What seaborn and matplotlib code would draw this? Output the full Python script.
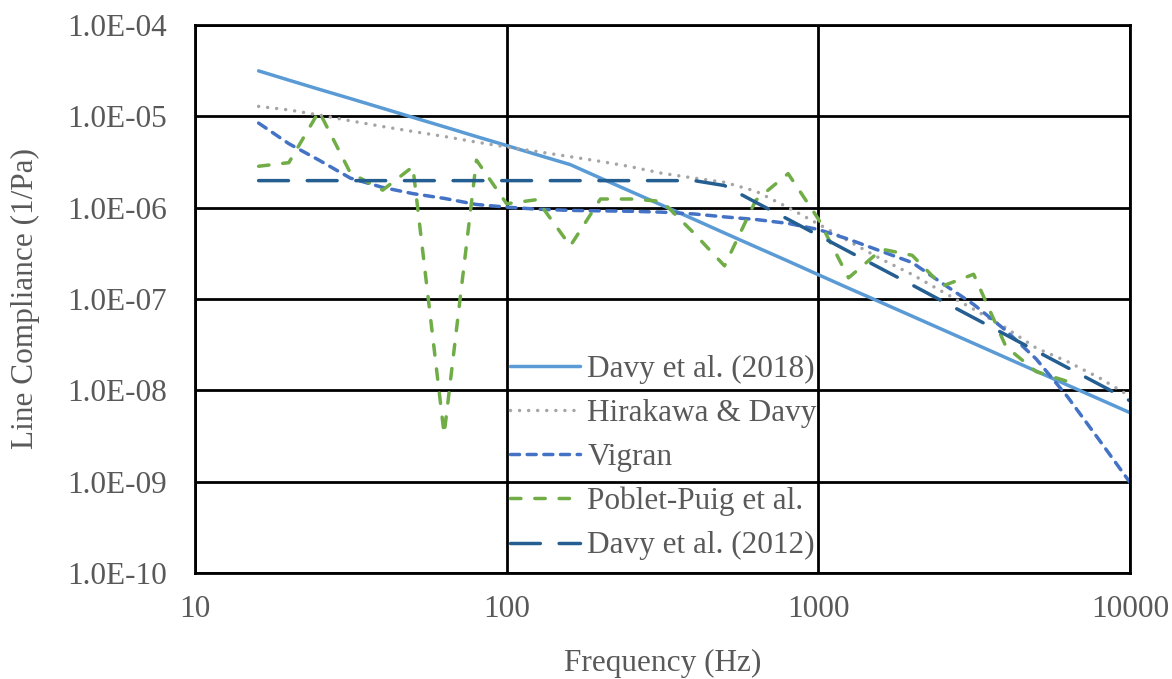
import numpy as np
import pandas as pd
import matplotlib
matplotlib.use("Agg")
import matplotlib.pyplot as plt
from matplotlib.ticker import FuncFormatter, FixedLocator, NullLocator
import seaborn as sns

# Third-octave band centre frequencies (Hz)
freq = [16, 20, 25, 31.5, 40, 50, 63, 80, 100, 125, 160, 200, 250, 315, 400,
        500, 630, 800, 1000, 1250, 1600, 2000, 2500, 3150, 4000, 5000, 6300,
        8000, 10000]

# Line compliance (1/Pa) for each model
davy_2018 = [3.13e-5, 2.48e-5, 1.97e-5, 1.56e-5, 1.22e-5, 9.7e-6, 7.66e-6,
             5.98e-6, 4.77e-6, 3.79e-6, 2.95e-6, 2.1e-6, 1.5e-6, 1.06e-6,
             7.4e-7, 5.26e-7, 3.71e-7, 2.59e-7, 1.84e-7, 1.31e-7, 9.06e-8,
             6.47e-8, 4.62e-8, 3.26e-8, 2.27e-8, 1.62e-8, 1.14e-8, 7.96e-9,
             5.68e-9]

hirakawa_davy = [1.28e-5, 1.17e-5, 1.03e-5, 8.9e-6, 7.7e-6, 6.8e-6, 6.0e-6,
                 5.2e-6, 4.6e-6, 4.1e-6, 3.6e-6, 3.2e-6, 2.8e-6, 2.37e-6,
                 2.1e-6, 1.89e-6, 1.51e-6, 1.0e-6, 6.6e-7, 4.3e-7, 2.7e-7,
                 1.85e-7, 1.2e-7, 7.7e-8, 4.8e-8, 2.9e-8, 2.06e-8, 1.36e-8,
                 8.6e-9]

vigran = [8.4e-6, 5.0e-6, 3.3e-6, 2.1e-6, 1.66e-6, 1.42e-6, 1.26e-6, 1.08e-6,
          1.01e-6, 9.6e-7, 9.3e-7, 9.2e-7, 9.1e-7, 8.9e-7, 8.5e-7, 7.9e-7,
          7.4e-7, 6.7e-7, 5.75e-7, 4.5e-7, 3.3e-7, 2.5e-7, 1.48e-7, 8.7e-8,
          4.5e-8, 2.2e-8, 8.5e-9, 2.8e-9, 9.8e-10]

# Poblet-Puig et al. stops at 6300 Hz
poblet_puig = [2.83e-6, 3.1e-6, 1.13e-5, 2.4e-6, 1.55e-6, 2.8e-6, 3.3e-9,
               3.3e-6, 1.1e-6, 1.22e-6, 3.8e-7, 1.24e-6, 1.24e-6, 1.17e-6,
               5.2e-7, 2.3e-7, 1.2e-6, 2.35e-6, 7.5e-7, 1.7e-7, 3.5e-7,
               3.0e-7, 1.38e-7, 1.86e-7, 3.0e-8, 1.6e-8, 1.25e-8]

davy_2012 = [1.97e-6] * 15 + [1.74e-6, 1.14e-6, 7.43e-7, 4.96e-7, 3.31e-7,
                              2.12e-7, 1.42e-7, 9.44e-8, 6.22e-8, 4.04e-8,
                              2.69e-8, 1.77e-8, 1.15e-8, 7.67e-9]

series_names = ["Davy et al. (2018)", "Hirakawa & Davy", "Vigran",
                "Poblet-Puig et al.", "Davy et al. (2012)"]
series_values = [davy_2018, hirakawa_davy, vigran, poblet_puig, davy_2012]
series_colors = ["#5B9BD5", "#A5A5A5", "#4472C4", "#70AD47", "#255E91"]
series_styles = ["-", (0, (0.01, 2.6)), (0, (2.6, 2.2)), (0, (3.0, 4.0)),
                 (0, (8.6, 5.4))]

x_ticks = [10, 100, 1000, 10000]
y_ticks = [1e-10, 1e-9, 1e-8, 1e-7, 1e-6, 1e-5, 1e-4]

sns.set_theme(style="white")
plt.rcParams["font.family"] = ["Liberation Serif", "DejaVu Serif"]

text_color = "#595959"
fs = 22.5

fig = plt.figure(figsize=(11.72, 6.79), dpi=100)
ax = fig.add_axes([195 / 1172, 1 - 573 / 679, 935 / 1172, (573 - 24.8) / 679])
ax.set_xscale("log")
ax.set_yscale("log")

for name, vals, col, ls in zip(series_names, series_values, series_colors,
                               series_styles):
    df = pd.DataFrame({"f": freq[:len(vals)], "c": vals})
    sns.lineplot(data=df, x="f", y="c", ax=ax, color=col, linestyle=ls,
                 linewidth=2.5, label=name, dash_capstyle="round",
                 solid_capstyle="round", estimator=None, sort=False)

ax.set_xlim(10, 10000)
ax.set_ylim(1e-10, 1e-4)
ax.xaxis.set_major_locator(FixedLocator(x_ticks))
ax.yaxis.set_major_locator(FixedLocator(y_ticks))
ax.xaxis.set_minor_locator(NullLocator())
ax.yaxis.set_minor_locator(NullLocator())
ax.xaxis.set_major_formatter(FuncFormatter(lambda v, p: f"{v:.0f}"))
ax.yaxis.set_major_formatter(FuncFormatter(lambda v, p: f"{v:.1E}"))
ax.tick_params(axis="both", length=0, labelsize=fs, labelcolor=text_color)
ax.tick_params(axis="x", pad=16)
ax.tick_params(axis="y", pad=20)

ax.grid(True, which="major", color="black", linewidth=2.0)
for sp in ax.spines.values():
    sp.set_color("black")
    sp.set_linewidth(2.0)
    sp.set_visible(True)

ax.set_xlabel("Frequency (Hz)", fontsize=fs, color=text_color, labelpad=18)
ax.set_ylabel("Line Compliance (1/Pa)", fontsize=fs, color=text_color,
              labelpad=20)

leg = ax.legend(loc="upper left", bbox_to_anchor=(0.337, 0.398), frameon=False,
                fontsize=fs, handlelength=2.25, handletextpad=0.22,
                labelspacing=0.48, borderpad=0, borderaxespad=0)
for t in leg.get_texts():
    t.set_color(text_color)

fig.savefig("out.png", dpi=100, facecolor="white")
